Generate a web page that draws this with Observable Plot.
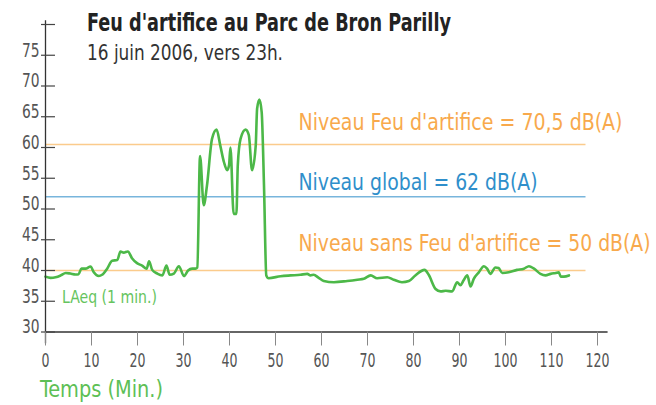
<!DOCTYPE html>
<html><head><meta charset="utf-8">
<script src="https://cdn.jsdelivr.net/npm/d3@7"></script>
<script src="https://cdn.jsdelivr.net/npm/@observablehq/plot@0.6"></script>
<style>
body{margin:0;background:#fff;}
#chart{position:relative;width:656px;height:405px;overflow:hidden;}
</style></head><body><div id="chart"></div>
<script>
const titleText = "Feu d'artifice au Parc de Bron Parilly";
const subtitleText = "16 juin 2006, vers 23h.";
const xLabel = "Temps (Min.)";
const seriesLabel = "LAeq (1 min.)";

const minutes = [0,1.1,2.2,3.3,4.4,5.4,6.5,7.2,7.8,8.7,9.8,10.5,11.6,12.3,13.4,14.5,15.6,16.3,17.0,17.9,18.8,19.9,21.0,22.0,22.5,23.2,24.3,25.4,26.3,27.0,27.9,29.0,30.1,31.0,31.9,32.6,33.0,
  33.6,34.4,35.1,36.2,37.2,38.0,38.8,39.5,39.9,40.2,40.9,41.5,41.8,42.4,43.5,44.2,44.9,45.7,46.0,46.5,47.0,47.5,48.0,48.5,
  51.1,53.3,55.4,56.9,57.6,58.3,59.4,60.5,62.7,65.6,67.8,69.2,70.7,72.1,74.3,75.7,77.5,79.0,80.4,82.4,83.3,
  84.8,85.9,87.0,88.4,89.5,90.2,90.9,91.7,92.4,93.1,94.2,95.3,96.0,96.7,97.8,98.5,99.3,100.7,102.5,104.0,105.1,106.2,107.6,108.7,109.8,110.9,111.6,112.0,112.7,113.8];
const levels = [39.0,38.8,38.9,39.2,39.6,39.5,39.35,39.4,40.3,40.3,40.65,39.7,39.1,39.3,40.3,41.6,41.7,43.1,42.9,43.1,42.0,41.2,40.8,40.3,41.5,40.1,39.5,39.2,40.8,39.3,39.5,40.7,39.1,40.0,40.3,40.3,40.5,
  58.6,50.6,53.8,61.4,62.9,60.3,57.6,56.3,57.1,60.0,49.2,49.2,57.1,61.4,62.9,62.0,56.3,60.3,66.3,67.8,65.7,53.8,39.2,38.75,
  39.07,39.2,39.3,39.45,39.2,39.3,38.8,38.3,38.1,38.3,38.5,38.65,39.2,38.75,38.9,38.5,38.1,38.3,39.2,40.1,39.3,
  37.0,36.6,36.7,36.6,38.1,37.6,38.4,39.2,37.4,38.65,39.7,40.7,40.3,39.45,40.5,40.4,39.6,39.7,40.1,40.3,40.7,40.3,39.45,39.2,39.45,39.6,39.7,39.0,39.0,39.2];

const levelValues = [60.5, 52, 40];
const levelLabels = ["Niveau Feu d'artifice = 70,5 dB(A)", "Niveau global = 62 dB(A)", "Niveau sans Feu d'artifice = 50 dB(A)"];
const xTicks = [0,10,20,30,40,50,60,70,80,90,100,110,120];
const yTicks = [30,35,40,45,50,55,60,65,70,75,80];
const yTickLabels = [30,35,40,45,50,55,60,65,70,75];

// styling
const FONT = "'DejaVu Sans Condensed','DejaVu Sans',sans-serif";
const orangeLine = "#fbcb8c", orangeText = "#f8a94c", blueLine = "#78b5dc", blueText = "#2f8fcb", green = "#4cb848";
const labelWidths = [324, 239, 352];

const data = minutes.map((m, i) => ({m, v: levels[i]}));

const chart = Plot.plot({
  width: 656, height: 405,
  marginLeft: 45, marginRight: 59, marginTop: 24, marginBottom: 73.5,
  x: {domain: [0, 120]},
  y: {domain: [30, 80]},
  style: {fontFamily: FONT, background: "white", color: "#555"},
  marks: [
    Plot.ruleY([levelValues[0]], {x1: 0, x2: 117.5, stroke: orangeLine, strokeWidth: 1.6}),
    Plot.ruleY([levelValues[1]], {x1: 0, x2: 117.5, stroke: blueLine, strokeWidth: 1.6}),
    Plot.ruleY([levelValues[2]], {x1: 0, x2: 117.5, stroke: orangeLine, strokeWidth: 1.6}),
    Plot.text([levelLabels[0]], {x: 55, y: levelValues[0], text: d => d, textAnchor: "start", lineAnchor: "bottom", dy: -14, fill: orangeText, fontSize: 23, className: "lvl0"}),
    Plot.text([levelLabels[1]], {x: 55, y: levelValues[1], text: d => d, textAnchor: "start", lineAnchor: "bottom", dy: -7, fill: blueText, fontSize: 23, className: "lvl1"}),
    Plot.text([levelLabels[2]], {x: 55, y: levelValues[2], text: d => d, textAnchor: "start", lineAnchor: "bottom", dy: -20, fill: orangeText, fontSize: 23, className: "lvl2"}),
    Plot.line(data, {x: "m", y: "v", stroke: green, strokeWidth: 2.6, curve: "monotone-x"}),
    Plot.ruleY([30], {x1: 0, x2: 122.3, stroke: "#333", strokeWidth: 1.3}),
    Plot.ruleX([0], {y1: 28.1, y2: 80.6, stroke: "#333", strokeWidth: 1.3}),
    Plot.ruleY(yTicks, {x1: -0.87, x2: 2.17, stroke: "#444", strokeWidth: 1.2}),
    Plot.axisY({ticks: yTickLabels, tickSize: 0, tickPadding: 6, dy: -5, fill: "#555", fontSize: 20, label: null, className: "yax"}),
    Plot.axisX({ticks: xTicks, tickSize: 14, tickPadding: 7, stroke: "#888", fill: "#555", fontSize: 19, label: null, className: "xax"})
  ]
});

document.getElementById("chart").appendChild(chart);
const svg = d3.select(chart);

// compress condensed-font text to the reference widths
levelLabels.forEach((_, i) => {
  svg.selectAll(".lvl" + i + " text").attr("textLength", labelWidths[i]).attr("lengthAdjust", "spacingAndGlyphs");
});
function squeeze(sel, perChar) {
  svg.selectAll(sel).each(function() {
    const n = this.textContent.length;
    d3.select(this).attr("textLength", n * perChar).attr("lengthAdjust", "spacingAndGlyphs");
  });
}
squeeze("g[aria-label='x-axis tick label'] text", 8);
squeeze("g[aria-label='y-axis tick label'] text", 8.8);

function addText(str, x, y, size, fill, weight, w) {
  svg.append("text").attr("x", x).attr("y", y).attr("font-size", size).attr("font-family", FONT)
    .attr("text-anchor", "start").attr("font-weight", weight || "normal").attr("fill", fill)
    .attr("textLength", w).attr("lengthAdjust", "spacingAndGlyphs").text(str);
}
addText(titleText, 87, 31, 24, "#222", "bold", 364);
addText(subtitleText, 87, 60, 21, "#333", "normal", 196);
addText(xLabel, 40, 397, 23, "#5dbf55", "normal", 123);
addText(seriesLabel, 62, 303, 17, "#66c45e", "normal", 95);
</script></body></html>
